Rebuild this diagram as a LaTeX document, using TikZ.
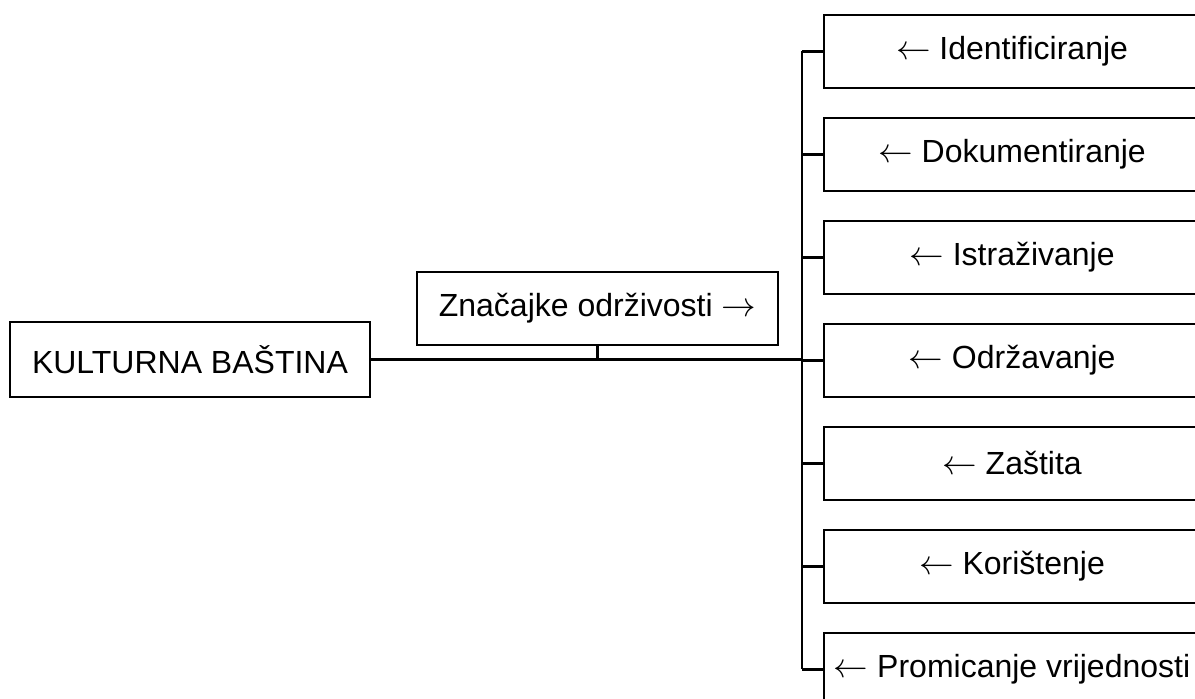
\documentclass[tikz,border=0pt]{standalone}
\usepackage{fontspec}
\setmainfont{Liberation Sans}
\usepackage{tikz}
\newcommand{\BoxWidth}{376}
\newcommand{\BoxHeight}{73}
\newcommand{\TrunkX}{802}

\begin{document}
\begin{tikzpicture}[x=0.5pt,y=-0.5pt,line width=1.4pt,
		box/.style={draw,rectangle,line width=1.1pt,inner sep=0pt,font=\fontsize{16}{19}\selectfont},
		branch/.style={box,minimum width=\BoxWidth*0.5pt,minimum height=\BoxHeight*0.5pt}]
		\useasboundingbox (0,0) rectangle (1195,699);
		\clip (0,0) rectangle (1195,699);

		\node[box,minimum width=180pt,minimum height=37.5pt] (heritage) at (190,359.5) {KULTURNA BAŠTINA};
		\node[box,minimum width=180.5pt,minimum height=36.5pt] (features) at (597.5,308.5) {Značajke održivosti $\rightarrow$};

		\node[branch] (identify) at (1012,51.5) {$\leftarrow$ Identificiranje};
		\node[branch] (document) at (1012,154.5) {$\leftarrow$ Dokumentiranje};
		\node[branch] (research) at (1012,257.5) {$\leftarrow$ Istraživanje};
		\node[branch] (maintain) at (1012,360.5) {$\leftarrow$ Održavanje};
		\node[branch] (protect) at (1012,463.5) {$\leftarrow$ Zaštita};
		\node[branch] (use) at (1012,566.5) {$\leftarrow$ Korištenje};
		\node[branch] (promote) at (1012,669.5) {$\leftarrow$ Promicanje vrijednosti};

		\coordinate (trunktop) at (\TrunkX,51.5);
		\coordinate (trunkbottom) at (\TrunkX,669.5);

		\draw (trunktop) -- (trunkbottom);% Trunk
		\draw (heritage.east) -- (heritage.east -| trunktop);% Main line
		\draw (features.south) -- (features.south |- heritage.east);% Stub
		\draw (identify.west) -- (identify.west -| trunktop);
		\draw (document.west) -- (document.west -| trunktop);
		\draw (research.west) -- (research.west -| trunktop);
		\draw (maintain.west) -- (maintain.west -| trunktop);
		\draw (protect.west) -- (protect.west -| trunktop);
		\draw (use.west) -- (use.west -| trunktop);
		\draw (promote.west) -- (promote.west -| trunktop);
	\end{tikzpicture}
\end{document}
